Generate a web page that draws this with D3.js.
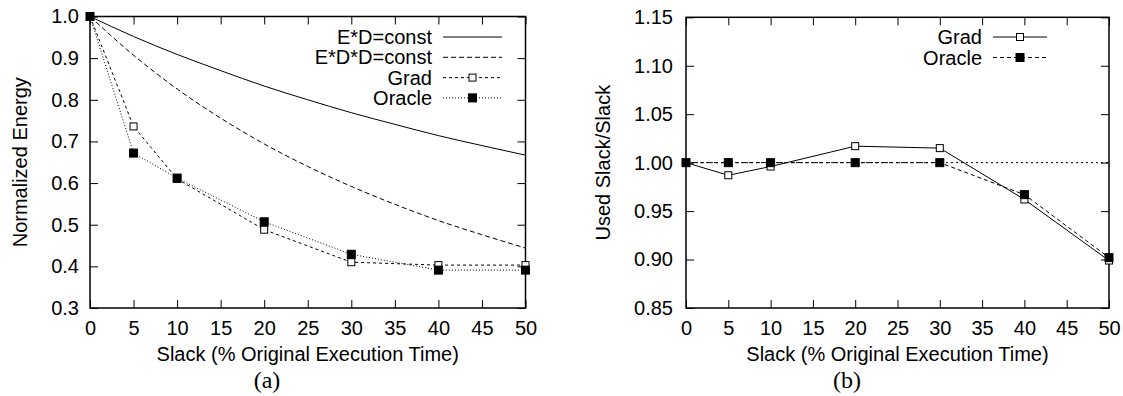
<!DOCTYPE html>
<html><head><meta charset="utf-8">
<script src="https://cdn.jsdelivr.net/npm/d3@7"></script>
<style>
body{margin:0;background:#fff}
</style>
</head><body>
<svg id="c" width="1123" height="396"></svg>
<script>
// ---- data ----
const slack = [0, 5, 10, 20, 30, 40, 50];
const curveSlack = [0, 5, 10, 15, 20, 25, 30, 35, 40, 45, 50];
const edConst  = [1.000, 0.952, 0.909, 0.870, 0.833, 0.800, 0.769, 0.741, 0.714, 0.690, 0.667];
const eddConst = [1.000, 0.907, 0.826, 0.756, 0.694, 0.640, 0.592, 0.549, 0.510, 0.476, 0.444];
const gradEnergy   = [1.000, 0.736, 0.610, 0.488, 0.410, 0.403, 0.403];
const oracleEnergy = [1.000, 0.672, 0.612, 0.507, 0.429, 0.391, 0.391];
const gradUsed   = [1.000, 0.987, 0.996, 1.017, 1.015, 0.962, 0.899];
const oracleUsed = [1.000, 1.000, 1.000, 1.000, 1.000, 0.967, 0.902];
const refLevel = [1.0];
const xTicks  = [0, 5, 10, 15, 20, 25, 30, 35, 40, 45, 50];
const yTicksA = [0.3, 0.4, 0.5, 0.6, 0.7, 0.8, 0.9, 1.0];
const yTicksB = [0.85, 0.90, 0.95, 1.00, 1.05, 1.10, 1.15];
const xTitle = "Slack (% Original Execution Time)";

const svg = d3.select("#c");
const FS = 20;
const SANS = '"Liberation Sans", Arial, Helvetica, sans-serif';
const SERIF = '"Liberation Serif", "Times New Roman", serif';

function panel(cfg) {
  const x = d3.scaleLinear().domain([0, 50]).range([cfg.left, cfg.right]);
  const y = d3.scaleLinear().domain(cfg.ydom).range([cfg.bottom, cfg.top]);
  const g = svg.append("g");
  const tick = 8;
  const ab = g.append("g").attr("transform", `translate(0,${cfg.bottom})`)
    .call(d3.axisBottom(x).tickValues(xTicks).tickSize(-tick).tickPadding(13).tickFormat(d3.format("d")));
  const at = g.append("g").attr("transform", `translate(0,${cfg.top})`)
    .call(d3.axisTop(x).tickValues(xTicks).tickSize(-tick).tickFormat(""));
  const al = g.append("g").attr("transform", `translate(${cfg.left},0)`)
    .call(d3.axisLeft(y).tickValues(cfg.yticks).tickSize(-tick).tickPadding(cfg.ypad).tickFormat(d3.format(cfg.yfmt)));
  const ar = g.append("g").attr("transform", `translate(${cfg.right},0)`)
    .call(d3.axisRight(y).tickValues(cfg.yticks).tickSize(-tick).tickFormat(""));
  [ab, at, al, ar].forEach(a => {
    a.select(".domain").remove();
    a.selectAll("line").attr("stroke", "#000").attr("stroke-width", 1);
    a.selectAll("text").style("font-size", FS + "px").style("font-family", SANS).attr("fill", "#000");
  });
  g.append("rect").attr("x", cfg.left).attr("y", cfg.top)
    .attr("width", cfg.right - cfg.left).attr("height", cfg.bottom - cfg.top)
    .attr("fill", "none").attr("stroke", "#000").attr("stroke-width", 1.5);
  g.append("text").attr("transform", `translate(${cfg.ytx},${(cfg.top + cfg.bottom) / 2}) rotate(-90)`)
    .attr("text-anchor", "middle").style("font-size", FS + "px").style("font-family", SANS).text(cfg.ytitle);
  g.append("text").attr("x", (cfg.left + cfg.right) / 2).attr("y", 361)
    .attr("text-anchor", "middle").style("font-size", FS + "px").style("font-family", SANS).text(xTitle);
  g.append("text").attr("x", cfg.capx).attr("y", 388)
    .attr("text-anchor", "middle").style("font-size", "24px").style("font-family", SERIF).text(cfg.cap);
  const lines = g.append("g");
  const marks = g.append("g");
  cfg.series.forEach(s => {
    const pts = s.xs.map((v, i) => [v, s.ys[i]]);
    const line = d3.line().x(d => x(d[0])).y(d => y(d[1])).curve(s.smooth ? d3.curveMonotoneX : d3.curveLinear);
    lines.append("path").attr("d", line(pts)).attr("fill", "none")
      .attr("stroke", "#000").attr("stroke-width", 1).attr("stroke-dasharray", s.dash);
    if (s.marker) {
      marks.selectAll(null).data(pts).enter().append("rect")
        .attr("x", d => x(d[0]) - s.msize / 2).attr("y", d => y(d[1]) - s.msize / 2)
        .attr("width", s.msize).attr("height", s.msize)
        .attr("fill", s.marker === "open" ? "#fff" : "#000")
        .attr("stroke", "#000").attr("stroke-width", 1);
    }
  });
  const lg = g.append("g");
  cfg.series.filter(s => s.label).forEach((s, i) => {
    const yy = cfg.legY + i * cfg.legDy;
    lg.append("text").attr("x", cfg.legTextX).attr("y", yy).attr("dy", "0.35em")
      .attr("text-anchor", "end").style("font-size", FS + "px").style("font-family", SANS).text(s.label);
    lg.append("line").attr("x1", cfg.legL1).attr("x2", cfg.legL2).attr("y1", yy).attr("y2", yy)
      .attr("stroke", "#000").attr("stroke-width", 1).attr("stroke-dasharray", s.dash);
    if (s.marker) {
      const cx = (cfg.legL1 + cfg.legL2) / 2;
      lg.append("rect").attr("x", cx - s.msize / 2).attr("y", yy - s.msize / 2)
        .attr("width", s.msize).attr("height", s.msize)
        .attr("fill", s.marker === "open" ? "#fff" : "#000").attr("stroke", "#000").attr("stroke-width", 1);
    }
  });
}

panel({
  left: 90, right: 525.5, top: 16.5, bottom: 308,
  ydom: [0.3, 1.0], yticks: yTicksA, yfmt: ".1f", ypad: 11,
  ytitle: "Normalized Energy", ytx: 27,
  cap: "(a)", capx: 267,
  legY: 37, legDy: 20.3, legTextX: 432, legL1: 443, legL2: 502,
  series: [
    {label: "E*D=const", xs: curveSlack, ys: edConst, dash: null, smooth: true},
    {label: "E*D*D=const", xs: curveSlack, ys: eddConst, dash: "5,3", smooth: true},
    {label: "Grad", xs: slack, ys: gradEnergy, dash: "3,3", marker: "open", msize: 7},
    {label: "Oracle", xs: slack, ys: oracleEnergy, dash: "1,2", marker: "filled", msize: 8}
  ]
});

panel({
  left: 686, right: 1109, top: 17.3, bottom: 308,
  ydom: [0.85, 1.15], yticks: yTicksB, yfmt: ".2f", ypad: 13,
  ytitle: "Used Slack/Slack", ytx: 610,
  cap: "(b)", capx: 847,
  legY: 37, legDy: 20.5, legTextX: 982, legL1: 993, legL2: 1047,
  series: [
    {label: null, xs: [0, 50], ys: [refLevel[0], refLevel[0]], dash: "2,3"},
    {label: "Grad", xs: slack, ys: gradUsed, dash: null, marker: "open", msize: 7},
    {label: "Oracle", xs: slack, ys: oracleUsed, dash: "4,3", marker: "filled", msize: 8}
  ]
});
</script>
</body></html>
